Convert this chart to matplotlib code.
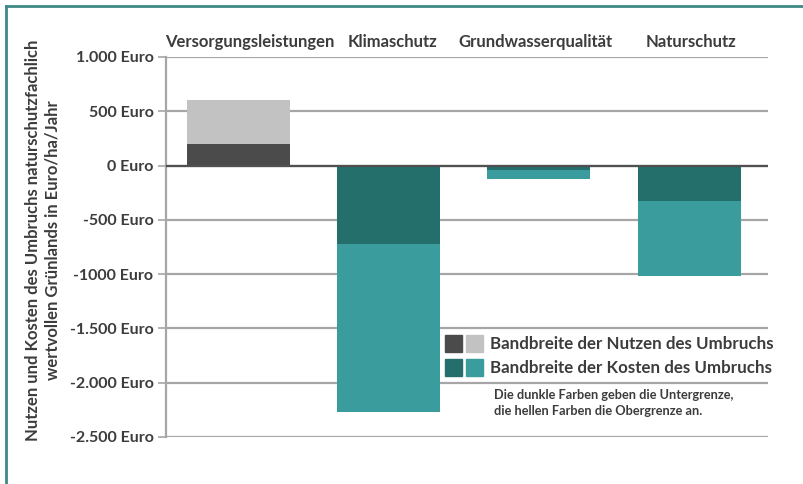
import matplotlib.pyplot as plt
from matplotlib.patches import Rectangle

categories = ["Versorgungsleistungen", "Klimaschutz", "Grundwasserqualität", "Naturschutz"]
# Untergrenze (dark) and Obergrenze (light) in Euro/ha/Jahr
lower = [200, -720, -45, -330]
upper = [600, -2270, -125, -1020]
yticks = [1000, 500, 0, -500, -1000, -1500, -2000, -2500]
ytick_labels = ["1.000 Euro", "500 Euro", "0 Euro", "-500 Euro", "-1000 Euro",
                "-1.500 Euro", "-2.000 Euro", "-2.500 Euro"]

dark_cols = ["#4b4b4b", "#246e6c", "#246e6c", "#246e6c"]
light_cols = ["#c2c2c2", "#3a9c9d", "#3a9c9d", "#3a9c9d"]
txt = "#3c3c3c"

plt.rcParams['font.family'] = ['Lato', 'DejaVu Sans']

fig = plt.figure(figsize=(8.04, 4.84), dpi=100)
ax = fig.add_axes([166 / 804, 1 - 437 / 484, (768 - 166) / 804, (437 - 57) / 484])

x = list(range(len(categories)))
w = 0.685
ax.bar(x, lower, width=w, color=dark_cols, zorder=3)
ax.bar(x, [u - l for u, l in zip(upper, lower)], bottom=lower, width=w,
       color=light_cols, zorder=3)

ax.set_ylim(-2500, 1000)
ax.set_xlim(-0.48, 3.525)
ax.set_yticks(yticks)
ax.set_yticklabels(ytick_labels, fontsize=11.5, fontweight='bold', color=txt)
ax.set_xticks([])
for y in yticks:
    ax.axhline(y, color="#a6a6a6", lw=1.6, zorder=1)
ax.axhline(0, color="#505050", lw=1.6, zorder=4)
for s in ['top', 'right', 'bottom']:
    ax.spines[s].set_visible(False)
ax.spines['left'].set_color("#a6a6a6")
ax.spines['left'].set_linewidth(1.6)
ax.tick_params(axis='y', length=6, width=1.2, color="#a6a6a6", pad=3)

# category names above the plot (first one sits a bit to the right)
label_shift = [0.08, 0.03, -0.02, 0.01]
for i, c in enumerate(categories):
    ax.text(i + label_shift[i], 1060, c, ha='center', va='bottom', fontsize=12,
            fontweight='bold', color=txt, clip_on=False)

fig.text(43 / 804, 1 - 240 / 484, "Nutzen und Kosten des Umbruchs naturschutzfachlich\nwertvollen Grünlands in Euro/ha/Jahr",
         rotation=90, ha='center', va='center', fontsize=12, fontweight='bold',
         color=txt, linespacing=1.25)

# legend drawn by hand
sq = 17
def fig_rect(px, py, col):
    fig.add_artist(Rectangle((px / 804, 1 - (py + sq) / 484), sq / 804, sq / 484,
                             transform=fig.transFigure, color=col))
fig_rect(445, 335, "#4b4b4b")
fig_rect(466, 335, "#c2c2c2")
fig_rect(445, 359, "#246e6c")
fig_rect(466, 359, "#3a9c9d")
fig.text(490 / 804, 1 - 344 / 484, "Bandbreite der Nutzen des Umbruchs", va='center',
         fontsize=12.2, fontweight='bold', color=txt)
fig.text(490 / 804, 1 - 368 / 484, "Bandbreite der Kosten des Umbruchs", va='center',
         fontsize=12.2, fontweight='bold', color=txt)
fig.text(494 / 804, 1 - 395 / 484, "Die dunkle Farben geben die Untergrenze,", va='center',
         fontsize=9.2, fontweight='bold', color=txt)
fig.text(494 / 804, 1 - 411 / 484, "die hellen Farben die Obergrenze an.", va='center',
         fontsize=9.2, fontweight='bold', color=txt)

# teal frame on top and left
fig.add_artist(plt.Line2D([6 / 804, 1], [1 - 6 / 484, 1 - 6 / 484], transform=fig.transFigure,
                          color="#3d8a86", lw=2))
fig.add_artist(plt.Line2D([6 / 804, 6 / 804], [0, 1 - 6 / 484], transform=fig.transFigure,
                          color="#3d8a86", lw=2))

fig.savefig("out.png", dpi=100)
